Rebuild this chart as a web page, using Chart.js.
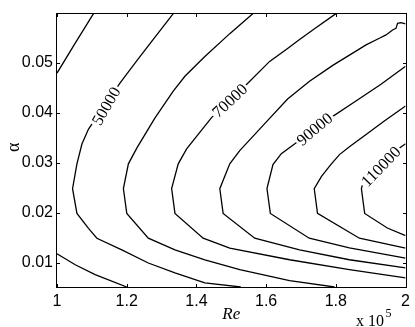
<!DOCTYPE html>
<html>
<head>
<meta charset="utf-8">
<script src="https://cdn.jsdelivr.net/npm/chart.js@4.4.1/dist/chart.umd.min.js"></script>
<style>
  html, body { margin: 0; padding: 0; background: #fff; }
  canvas { display: block; }
</style>
</head>
<body>
<canvas id="contour" width="415" height="327"></canvas>
<script>
// axis ticks
const reTicks = [1, 1.2, 1.4, 1.6, 1.8, 2];
const reTickLabels = ['1', '1.2', '1.4', '1.6', '1.8', '2'];
const alphaTicks = [0.01, 0.02, 0.03, 0.04, 0.05];
const alphaTickLabels = ['0.01', '0.02', '0.03', '0.04', '0.05'];

// contour lines (Re in units of 1e5)
const re40a = [1.000, 1.0523, 1.1047];
const al40a = [0.0480, 0.0540, 0.0599];
const re40b = [1.000, 1.0523, 1.1095, 1.2002];
const al40b = [0.01185, 0.00966, 0.00768, 0.0052];

const re50 = [1.3335, 1.2812, 1.2297, 1.1811, 1.1353, 1.0904, 1.0715, 1.0572, 1.0446, 1.0572, 1.0904, 1.1144, 1.1859, 1.2620, 1.3384, 1.4242, 1.5272];
const al50 = [0.0599, 0.0552, 0.05054, 0.04603, 0.04141, 0.03679, 0.03381, 0.02984, 0.02488, 0.01992, 0.01694, 0.01496, 0.01264, 0.0100, 0.00802, 0.00603, 0.0052];

const re60 = [1.5624, 1.4957, 1.4242, 1.3670, 1.3335, 1.2812, 1.2297, 1.2048, 1.1905, 1.2002, 1.2620, 1.3384, 1.4242, 1.5243, 1.6673, 1.7961];
const al60 = [0.0599, 0.05589, 0.05133, 0.04736, 0.04438, 0.03903, 0.03308, 0.02984, 0.02488, 0.01992, 0.01496, 0.01264, 0.01065, 0.00867, 0.00649, 0.0052];

const re70 = [1.8003, 1.7388, 1.6959, 1.6616, 1.6101, 1.5481, 1.4957, 1.4434, 1.3719, 1.3478, 1.3289, 1.3384, 1.4193, 1.4957, 1.6673, 1.8389, 2.0];
const al70 = [0.0599, 0.05688, 0.0547, 0.05292, 0.05034, 0.04603, 0.0425, 0.03909, 0.03282, 0.02984, 0.02488, 0.01992, 0.01496, 0.01298, 0.01065, 0.00867, 0.00702];

const re80 = [2.0, 1.9868, 1.9771, 1.9725, 1.9628, 1.9439, 1.9248, 1.8867, 1.7912, 1.7245, 1.6616, 1.6007, 1.5243, 1.4957, 1.4671, 1.4766, 1.5672, 1.6959, 1.8389, 2.0];
const al80 = [0.05782, 0.05808, 0.05794, 0.05694, 0.05663, 0.05563, 0.05496, 0.05365, 0.04954, 0.04637, 0.0428, 0.03823, 0.03248, 0.02984, 0.02488, 0.01992, 0.01496, 0.01264, 0.01065, 0.00901];

const re90 = [2.0, 1.9296, 1.8533, 1.7846, 1.7388, 1.6902, 1.6436, 1.6196, 1.6024, 1.6121, 1.7237, 1.8389, 2.0];
const al90 = [0.04935, 0.04577, 0.0422, 0.03903, 0.03679, 0.03427, 0.03188, 0.0297, 0.02488, 0.01992, 0.01496, 0.01304, 0.01099];

const re100 = [2.0, 1.9391, 1.8819, 1.8390, 1.8104, 1.7855, 1.7589, 1.7380, 1.7474, 1.8676, 2.0];
const al100 = [0.04141, 0.03843, 0.03546, 0.03327, 0.03169, 0.0297, 0.02732, 0.02488, 0.01992, 0.01496, 0.01298];

const re110 = [2.0, 1.982, 1.8761, 1.8733, 1.8827, 1.9477, 2.0];
const al110 = [0.03387, 0.03298, 0.02554, 0.02488, 0.01992, 0.017, 0.01548];

const segments = [
  [re40a, al40a], [re40b, al40b], [re50, al50], [re60, al60], [re70, al70],
  [re80, al80], [re90, al90], [re100, al100], [re110, al110]
];

// inline contour labels: level, where it sits, text angle
const labelSpots = [
  { text: '50000', re: 1.1411, alpha: 0.0414, angle: -60 },
  { text: '70000', re: 1.4957, alpha: 0.0425, angle: -43 },
  { text: '90000', re: 1.7388, alpha: 0.0368, angle: -40 },
  { text: '110000', re: 1.9291, alpha: 0.0293, angle: -46 }
];

const serif = '"Liberation Serif", "Times New Roman", serif';
const sans = '"Liberation Sans", Arial, sans-serif';

const frame = {
  id: 'frame',
  beforeDraw(chart) {
    const ctx = chart.ctx;
    ctx.save();
    ctx.fillStyle = '#fff';
    ctx.fillRect(0, 0, chart.width, chart.height);
    ctx.restore();
  },
  afterDatasetsDraw(chart) {
    const { ctx, chartArea: a, scales: { x, y } } = chart;
    ctx.save();
    // contour labels
    ctx.font = '16.5px ' + serif;
    ctx.textAlign = 'center';
    ctx.textBaseline = 'middle';
    labelSpots.forEach(s => {
      const px = x.getPixelForValue(s.re);
      const py = y.getPixelForValue(s.alpha);
      const w = ctx.measureText(s.text).width;
      ctx.save();
      ctx.translate(px, py);
      ctx.rotate(s.angle * Math.PI / 180);
      ctx.fillStyle = '#fff';
      ctx.fillRect(-w / 2 - 2, -6.5, w + 4, 13);
      ctx.fillStyle = '#000';
      ctx.fillText(s.text, 0, 1);
      ctx.restore();
    });

    // box and inward ticks
    ctx.strokeStyle = '#000';
    ctx.lineWidth = 1;
    const L = Math.round(a.left) - 0.5, R = Math.round(a.right) + 0.5;
    const T = Math.round(a.top) - 0.5, B = Math.round(a.bottom) + 0.5;
    ctx.strokeRect(L, T, R - L, B - T);
    const tl = 3.5;
    ctx.beginPath();
    reTicks.forEach(v => {
      const px = Math.round(x.getPixelForValue(v)) + 0.5;
      ctx.moveTo(px, B); ctx.lineTo(px, B - tl);
      ctx.moveTo(px, T); ctx.lineTo(px, T + tl);
    });
    alphaTicks.forEach(v => {
      const py = Math.round(y.getPixelForValue(v)) + 0.5;
      ctx.moveTo(L, py); ctx.lineTo(L + tl, py);
      ctx.moveTo(R, py); ctx.lineTo(R - tl, py);
    });
    ctx.stroke();

    // axis titles
    ctx.fillStyle = '#000';
    ctx.textAlign = 'center';
    ctx.textBaseline = 'alphabetic';
    ctx.font = 'italic 17px ' + serif;
    ctx.fillText('Re', (a.left + a.right) / 2, 319);

    ctx.save();
    ctx.translate(19, (a.top + a.bottom) / 2 - 3);
    ctx.rotate(-Math.PI / 2);
    ctx.font = '18px ' + serif;
    ctx.fillText('\u03b1', 0, 0);
    ctx.restore();

    // x 10^5 multiplier
    ctx.textAlign = 'left';
    ctx.font = '16px ' + serif;
    ctx.fillText('x 10', 356, 326);
    ctx.font = '12px ' + serif;
    ctx.fillText('5', 385.5, 317);
    ctx.restore();
  }
};

new Chart(document.getElementById('contour'), {
  type: 'scatter',
  data: {
    datasets: segments.map(([re, al]) => ({
      data: re.map((v, i) => ({ x: v, y: al[i] })),
      showLine: true,
      borderColor: '#000',
      borderWidth: 1.3,
      pointRadius: 0,
      pointHoverRadius: 0,
      tension: 0
    }))
  },
  options: {
    responsive: false,
    animation: false,
    devicePixelRatio: 1,
    layout: { padding: { left: 0, right: 9, top: 12, bottom: 0 } },
    plugins: { legend: { display: false }, tooltip: { enabled: false } },
    scales: {
      x: {
        type: 'linear', min: 1, max: 2,
        afterBuildTicks: s => { s.ticks = reTicks.map(v => ({ value: v })); },
        afterFit: s => { s.height = 40; },
        grid: { display: false, drawTicks: false },
        border: { display: false },
        ticks: {
          callback: (v, i) => reTickLabels[i],
          color: '#000', padding: 5, maxRotation: 0, autoSkip: false,
          font: { family: sans, size: 16 }
        }
      },
      y: {
        type: 'linear', min: 0.0052, max: 0.0599,
        afterBuildTicks: s => { s.ticks = alphaTicks.map(v => ({ value: v })); },
        afterFit: s => { s.width = 57; },
        grid: { display: false, drawTicks: false },
        border: { display: false },
        ticks: {
          callback: (v, i) => alphaTickLabels[i],
          color: '#000', padding: 4, autoSkip: false,
          font: { family: sans, size: 16 }
        }
      }
    }
  },
  plugins: [frame]
});
</script>
</body>
</html>
